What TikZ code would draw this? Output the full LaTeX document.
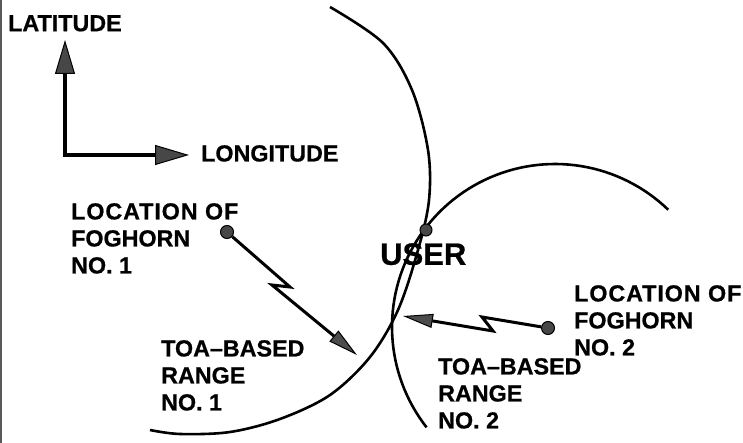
\documentclass[tikz,border=0pt]{standalone}
\usepackage{fontspec}
\setmainfont{Liberation Sans}[BoldFeatures={FakeBold=0.7}]
\usetikzlibrary{arrows.meta}
\newcommand{\wideloc}{{\addfontfeature{LetterSpace=4}LOCATION OF}}
\begin{document}
\begin{tikzpicture}[x=1pt,y=-1pt,
  lbl/.style={font=\fontsize{23.3}{27}\selectfont\bfseries, align=left, anchor=north west, inner sep=0pt},
  rangecurve/.style={line width=2.6pt},
  axisarrow/.style={line width=4pt, line join=miter},
  bolt/.style={line width=3pt, line join=miter, -{Triangle[length=30pt,width=14pt,fill=black!70,line width=1pt]}},
  dot/.style={circle, draw=black, line width=1pt, fill=black!72, minimum size=13pt, inner sep=0pt}]
\useasboundingbox (0,0) rectangle (743,443);
% scan border at left
\draw[line width=1.5pt, black!65] (1,0) -- (1,443);
% range circles
\draw[rangecurve] plot[smooth, tension=0.55] coordinates {(330,7) (383,43) (412,90) (428,150) (429,200) (418,250) (398,310) (370,357) (330,395) (280,419) (230,432) (180,434) (150,430)};
\draw[rangecurve] plot[domain=-46:-218, samples=80] ({555+163*cos(\x)},{327+163*sin(\x)});
% axes
\coordinate (o) at (65,155);
\coordinate (latTip) at (65,40);
\coordinate (lonTip) at (189,155);
\draw[axisarrow, {Triangle[length=34pt,width=20pt,fill=black!72,line width=1pt]}-{Triangle[length=34pt,width=20pt,fill=black!72,line width=1pt]}] (latTip) -- (o) -- (lonTip);
% labels
\node[lbl] (lat) at (8,15) {LATITUDE};
\node[lbl] (lon) at (201,145) {LONGITUDE};
\node[lbl] (loc1) at (71,203) {\wideloc\\FOGHORN\\NO. 1};
\node[lbl] (rng1) at (161,340) {TOA–BASED\\RANGE\\NO. 1};
\node[lbl, font=\fontsize{31}{31}\selectfont\bfseries] (user) at (380,243) {USER};
\node[lbl] (loc2) at (574,285) {\wideloc\\FOGHORN\\NO. 2};
\node[lbl] (rng2) at (438,358) {TOA–BASED\\RANGE\\NO. 2};
% dots
\node[dot] (f1) at (227,232) {};
\node[dot] (f2) at (548,328) {};
\node[dot, minimum size=12pt] (u) at (426,230) {};
% lightning arrows
\coordinate (z1a) at (290,287);
\coordinate (z1b) at (272,285);
\coordinate (t1) at (357,355);
\draw[bolt] (f1) -- (z1a) -- (z1b) -- (t1);
\coordinate (z2a) at (482,317);
\coordinate (z2b) at (493,331);
\coordinate (t2) at (403,316);
\draw[bolt] (f2) -- (z2a) -- (z2b) -- (t2);
\end{tikzpicture}
\end{document}
